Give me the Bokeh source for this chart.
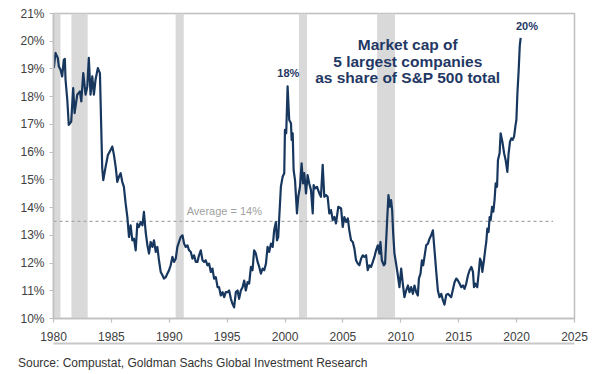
from bokeh.plotting import figure
from bokeh.models import Range1d, FixedTicker, Div, LinearAxis
from bokeh.layouts import column
from bokeh.core.properties import value
from bokeh.embed import file_html
from bokeh.resources import INLINE

# ---- data ----
years = [
    1980.03, 1980.17, 1980.37, 1980.46, 1980.61, 1980.75, 1980.89, 1980.98, 1981.04, 1981.19,
    1981.32, 1981.53, 1981.70, 1981.82, 1982.05, 1982.28, 1982.40, 1982.57, 1982.77, 1982.92,
    1983.05, 1983.20, 1983.35, 1983.49, 1983.63, 1983.83, 1984.01, 1984.15, 1984.21, 1984.30,
    1984.50, 1984.70, 1984.93, 1985.08, 1985.22, 1985.37, 1985.51, 1985.65, 1985.80, 1985.94,
    1986.08, 1986.23, 1986.38, 1986.52, 1986.66, 1986.81, 1986.95, 1987.10, 1987.24, 1987.38,
    1987.53, 1987.68, 1987.81, 1987.96, 1988.11, 1988.25, 1988.39, 1988.54, 1988.68, 1988.83,
    1988.97, 1989.11, 1989.26, 1989.41, 1989.54, 1989.69, 1989.84, 1989.98, 1990.12, 1990.27,
    1990.41, 1990.56, 1990.70, 1990.84, 1990.99, 1991.14, 1991.28, 1991.42, 1991.57, 1991.71,
    1991.86, 1992.00, 1992.14, 1992.29, 1992.43, 1992.57, 1992.72, 1992.87, 1993.01, 1993.15,
    1993.30, 1993.44, 1993.59, 1993.73, 1993.87, 1994.02, 1994.17, 1994.30, 1994.45, 1994.60,
    1994.74, 1994.88, 1995.03, 1995.17, 1995.32, 1995.46, 1995.60, 1995.75, 1995.90, 1996.03,
    1996.18, 1996.33, 1996.47, 1996.61, 1996.76, 1996.90, 1997.05, 1997.19, 1997.33, 1997.48,
    1997.63, 1997.77, 1997.91, 1998.06, 1998.20, 1998.35, 1998.49, 1998.63, 1998.78, 1998.93,
    1999.06, 1999.21, 1999.30, 1999.41, 1999.50, 1999.64, 1999.79, 1999.93, 1999.99, 2000.10,
    2000.22, 2000.36, 2000.51, 2000.57, 2000.66, 2000.74, 2000.86, 2001.03, 2001.14, 2001.29,
    2001.43, 2001.55, 2001.66, 2001.81, 2001.95, 2002.09, 2002.24, 2002.39, 2002.47, 2002.59,
    2002.76, 2002.96, 2003.10, 2003.25, 2003.39, 2003.54, 2003.68, 2003.82, 2003.97, 2004.12,
    2004.26, 2004.40, 2004.60, 2004.84, 2004.98, 2005.12, 2005.27, 2005.42, 2005.55, 2005.70,
    2005.85, 2005.99, 2006.13, 2006.28, 2006.42, 2006.57, 2006.71, 2006.85, 2007.00, 2007.14,
    2007.28, 2007.43, 2007.58, 2007.72, 2007.86, 2008.01, 2008.15, 2008.24, 2008.36, 2008.53,
    2008.64, 2008.82, 2008.93, 2009.05, 2009.16, 2009.25, 2009.34, 2009.45, 2009.59, 2009.74,
    2009.88, 2010.03, 2010.17, 2010.31, 2010.46, 2010.61, 2010.75, 2010.89, 2011.04, 2011.18,
    2011.33, 2011.47, 2011.56, 2011.70, 2011.82, 2011.93, 2012.04, 2012.19, 2012.34, 2012.48,
    2012.62, 2012.77, 2012.91, 2013.06, 2013.20, 2013.34, 2013.49, 2013.64, 2013.77, 2013.92,
    2014.07, 2014.21, 2014.35, 2014.64, 2014.79, 2014.93, 2015.07, 2015.22, 2015.37, 2015.50,
    2015.65, 2015.80, 2015.94, 2016.09, 2016.23, 2016.32, 2016.43, 2016.60, 2016.72, 2016.84,
    2016.95, 2017.04, 2017.18, 2017.30, 2017.38, 2017.47, 2017.58, 2017.67, 2017.76, 2017.88,
    2017.99, 2018.10, 2018.19, 2018.31, 2018.39, 2018.53, 2018.62, 2018.77, 2018.92, 2019.05,
    2019.20, 2019.31, 2019.43, 2019.55, 2019.66, 2019.78, 2019.89, 2019.98, 2020.07, 2020.18,
    2020.27, 2020.35,
]
share = [
    19.03, 19.58, 19.40, 19.09, 18.97, 18.73, 19.33, 19.36, 18.61, 17.89,
    16.98, 17.10, 18.31, 17.41, 18.07, 18.19, 17.83, 18.85, 18.07, 18.37,
    19.40, 18.07, 18.73, 18.07, 18.61, 19.03, 18.85, 16.44, 15.41, 14.99,
    15.47, 15.90, 16.08, 16.20, 15.90, 15.47, 14.93, 15.11, 15.24, 14.93,
    14.75, 14.15, 13.66, 12.94, 13.36, 12.82, 12.88, 12.46, 13.42, 13.30,
    13.48, 13.36, 13.85, 13.12, 12.64, 12.34, 12.76, 12.58, 12.82, 12.40,
    12.58, 12.10, 11.68, 11.56, 11.44, 11.49, 11.62, 11.74, 11.92, 12.22,
    12.04, 12.16, 12.58, 12.76, 12.94, 13.00, 12.70, 12.58, 12.64, 12.46,
    12.40, 12.16, 12.28, 12.04, 12.04, 12.28, 12.46, 12.10, 12.04, 12.10,
    11.92, 11.98, 11.68, 11.80, 11.44, 11.49, 11.13, 11.13, 10.83, 10.95,
    10.77, 10.95, 10.95, 11.01, 10.71, 10.53, 10.40, 10.95, 11.01, 10.71,
    11.01, 11.13, 11.37, 11.01, 11.31, 11.26, 11.86, 11.74, 12.46, 12.34,
    12.04, 11.86, 11.62, 11.80, 11.74, 11.98, 12.58, 12.40, 12.70, 12.58,
    13.18, 13.48, 12.82, 12.94, 13.66, 14.75, 15.11, 15.24, 16.80, 16.68,
    18.37, 17.16, 17.04, 16.44, 16.68, 15.35, 14.99, 13.79, 14.39, 14.75,
    15.60, 14.87, 15.24, 14.51, 15.17, 14.87, 14.63, 13.79, 14.81, 14.69,
    14.75, 14.51, 14.39, 15.54, 14.39, 14.45, 14.39, 13.79, 13.91, 13.55,
    13.66, 13.43, 14.03, 13.97, 13.30, 13.66, 13.48, 13.61, 13.18, 12.82,
    12.76, 12.52, 12.10, 11.98, 11.92, 12.16, 12.28, 12.22, 12.28, 11.74,
    11.92, 11.86, 12.04, 12.22, 12.46, 12.64, 12.34, 12.76, 12.10, 11.92,
    11.98, 13.55, 14.45, 14.03, 14.27, 13.91, 13.06, 12.34, 11.98, 11.56,
    11.13, 11.80, 11.26, 10.77, 11.01, 11.19, 10.95, 11.13, 10.89, 11.19,
    10.95, 10.83, 11.44, 11.62, 12.10, 11.92, 12.22, 12.64, 12.70, 12.88,
    13.00, 13.18, 12.46, 11.68, 11.01, 10.77, 10.89, 10.65, 10.50, 10.85,
    10.89, 10.83, 10.77, 11.31, 11.44, 11.37, 11.26, 11.13, 11.19, 11.07,
    11.26, 11.56, 11.74, 11.86, 11.68, 11.13, 11.26, 11.13, 11.62, 12.16,
    12.04, 11.68, 12.10, 12.52, 12.76, 13.24, 13.12, 13.66, 13.55, 14.03,
    13.85, 14.30, 14.87, 14.75, 15.72, 15.96, 16.68, 16.38, 15.96, 15.72,
    15.29, 15.96, 16.38, 16.50, 16.44, 16.56, 16.92, 17.16, 18.13, 18.97,
    19.82, 20.12,
]

recession_start = [1980.0, 1981.55, 1990.55, 2001.2, 2007.95]
recession_end = [1980.6, 1982.95, 1991.25, 2001.9, 2009.5]

average_value = 13.5
average_years = [1980.0, 2023.15]

x_ticks = [1980, 1985, 1990, 1995, 2000, 2005, 2010, 2015, 2020, 2025]
y_ticks = [10, 11, 12, 13, 14, 15, 16, 17, 18, 19, 20, 21]

title_lines = ["Market cap of", "5 largest companies", "as share of S&P 500 total"]
source_text = "Source: Compustat, Goldman Sachs Global Investment Research"

FONT = "Liberation Sans"
NAVY = "#17375e"
AXIS_GREY = "#bfbfbf"

p = figure(width=590, height=350, x_range=Range1d(1980, 2025), y_range=Range1d(10, 21),
           output_backend="svg", toolbar_location=None,
           min_border_left=53, min_border_right=16, min_border_top=13, min_border_bottom=32)
p.background_fill_color = "white"
p.border_fill_color = "white"
p.outline_line_color = AXIS_GREY
p.outline_line_width = 1.5
p.xgrid.visible = False
p.ygrid.visible = False

# recession shading
p.quad(left=recession_start, right=recession_end, bottom=10, top=21,
       fill_color="#d9d9d9", line_color=None)

# average line
p.line(average_years, [average_value, average_value], line_color="#a6a6a6",
       line_width=1.3, line_dash="3 3")
p.text(x=[1991.5], y=[13.88], text=["Average = 14%"], text_font=value(FONT),
       text_font_size="11px", text_color="#a0a0a0", text_baseline="middle", text_align="left")

# series
p.line(years, share, line_color=NAVY, line_width=2.2, line_join="round")

# annotations
p.text(x=[2010.6, 2010.6, 2010.6], y=[19.88, 19.28, 18.68], text=title_lines,
       text_font=value(FONT), text_font_size="15.5px", text_font_style="bold",
       text_color="#1f3864", text_align="center", text_baseline="middle")
p.text(x=[2000.28, 2020.89], y=[18.87, 20.54], text=["18%", "20%"],
       text_font=value(FONT), text_font_size="11px", text_font_style="bold",
       text_color="#1f3864", text_align="center", text_baseline="middle")

for ax in (p.xaxis[0], p.yaxis[0]):
    ax.axis_line_color = AXIS_GREY
    ax.axis_line_width = 1.5
    ax.major_tick_line_color = AXIS_GREY
    ax.major_tick_line_width = 1.2
    ax.major_tick_in = 0
    ax.major_tick_out = 4
    ax.minor_tick_line_color = None
    ax.major_label_text_font = FONT
    ax.major_label_text_font_size = "12px"
    ax.major_label_text_color = "#404040"

p.xaxis.major_label_standoff = 9
p.yaxis.major_label_standoff = 5
p.xaxis.ticker = FixedTicker(ticks=x_ticks)
p.yaxis.ticker = FixedTicker(ticks=y_ticks)
p.yaxis.major_label_overrides = {t: f"{t}%" for t in y_ticks}
p.xaxis.major_label_overrides = {t: str(t) for t in x_ticks}

# grey rule under the x-axis labels: a bare second axis below (line only)
rule_axis = LinearAxis(ticker=FixedTicker(ticks=[]), axis_line_color="#c8c8c8",
                       axis_line_width=2, major_tick_in=0, major_tick_out=0,
                       minor_tick_in=0, minor_tick_out=0,
                       major_tick_line_color=None, minor_tick_line_color=None,
                       major_label_text_font_size="0px")
p.add_layout(rule_axis, "below")

# source line
footer = Div(
    text=("<div style=\"margin:-1px 0 0 13px; "
          "font-family:'Liberation Sans'; font-size:12px; line-height:14px; color:#333333; "
          "white-space:nowrap;\">" + source_text.replace("&", "&amp;") + "</div>"),
    width=590, height=18)

layout = column(p, footer, spacing=0)
open("out.html", "w").write(file_html(layout, INLINE))
